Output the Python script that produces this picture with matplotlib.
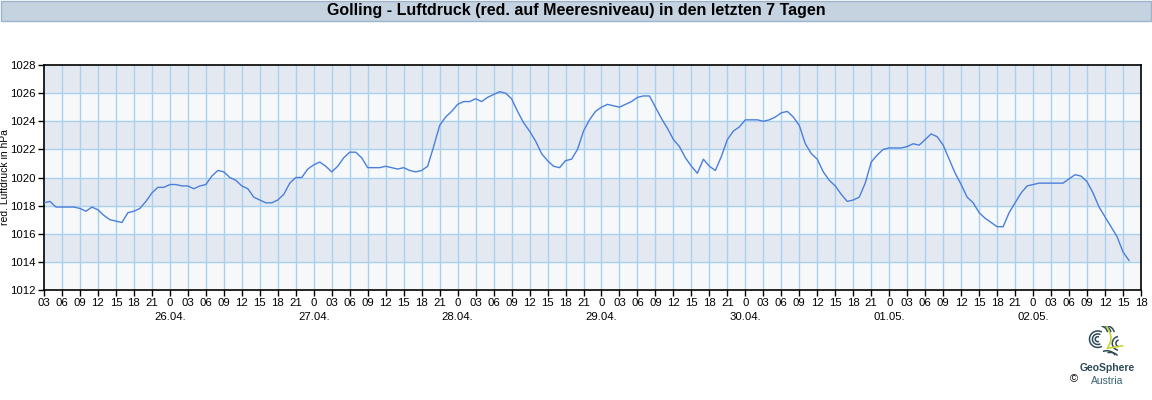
"""Golling - reduced air pressure, last 7 days (hourly readings off the chart)."""

import datetime as dt

import numpy as np

import matplotlib
matplotlib.use('Agg')
import matplotlib.pyplot as plt
from matplotlib.patches import Rectangle, Arc

plt.rcParams['font.family'] = ['Liberation Sans', 'DejaVu Sans']

TITLE = 'Golling - Luftdruck (red. auf Meeresniveau) in den letzten 7 Tagen'
YLABEL = 'red. Luftdruck in hPa'
START = dt.datetime(2024, 4, 25, 3)      # first tick, 25.04. 03 h
N_HOURS = 183                            # last tick, 02.05. 18 h

# hours since START, one reading per hour
HOURS = list(range(0, 182))
PRESSURE = [
    1018.2, 1018.3, 1017.9, 1017.9, 1017.9, 1017.9, 1017.8, 1017.6, 1017.9, 1017.7,
    1017.3, 1017.0, 1016.9, 1016.8, 1017.5, 1017.6, 1017.8, 1018.3, 1018.9, 1019.3,
    1019.3, 1019.5, 1019.5, 1019.4, 1019.4, 1019.2, 1019.4, 1019.5, 1020.1, 1020.5,
    1020.4, 1020.0, 1019.8, 1019.4, 1019.2, 1018.6, 1018.4, 1018.2, 1018.2, 1018.4,
    1018.8, 1019.6, 1020.0, 1020.0, 1020.6, 1020.9, 1021.1, 1020.8, 1020.4, 1020.8,
    1021.4, 1021.8, 1021.8, 1021.4, 1020.7, 1020.7, 1020.7, 1020.8, 1020.7, 1020.6,
    1020.7, 1020.5, 1020.4, 1020.5, 1020.8, 1022.2, 1023.7, 1024.3, 1024.7, 1025.2,
    1025.4, 1025.4, 1025.6, 1025.4, 1025.7, 1025.9, 1026.1, 1026.0, 1025.6, 1024.7,
    1023.9, 1023.3, 1022.6, 1021.7, 1021.2, 1020.8, 1020.7, 1021.2, 1021.3, 1022.0,
    1023.3, 1024.1, 1024.7, 1025.0, 1025.2, 1025.1, 1025.0, 1025.2, 1025.4, 1025.7,
    1025.8, 1025.8, 1025.0, 1024.2, 1023.5, 1022.7, 1022.2, 1021.4, 1020.8, 1020.3,
    1021.3, 1020.8, 1020.5, 1021.5, 1022.7, 1023.3, 1023.6, 1024.1, 1024.1, 1024.1,
    1024.0, 1024.1, 1024.3, 1024.6, 1024.7, 1024.3, 1023.7, 1022.4, 1021.7, 1021.3,
    1020.4, 1019.8, 1019.4, 1018.8, 1018.3, 1018.4, 1018.6, 1019.6, 1021.1, 1021.6,
    1022.0, 1022.1, 1022.1, 1022.1, 1022.2, 1022.4, 1022.3, 1022.7, 1023.1, 1022.9,
    1022.3, 1021.3, 1020.3, 1019.5, 1018.6, 1018.2, 1017.5, 1017.1, 1016.8, 1016.5,
    1016.5, 1017.5, 1018.2, 1018.9, 1019.4, 1019.5, 1019.6, 1019.6, 1019.6, 1019.6,
    1019.6, 1019.9, 1020.2, 1020.1, 1019.7, 1018.9, 1017.9, 1017.2, 1016.5, 1015.8,
    1014.7, 1014.1,
]
Y_MIN, Y_MAX, Y_STEP = 1012, 1028, 2

BAND_DARK = '#e4e9f1'
BAND_LIGHT = '#f6f8fa'
GRID = '#a9d0ef'
LINE = '#4a7fdc'
LOGO_DARK = '#2c4a57'
LOGO_YELLOW = '#c8d43a'

W, H = 1152, 400


def fx(px):
    return px / W


def fy(py):
    return 1 - py / H


def hour_label(h):
    t = START + dt.timedelta(hours=h)
    return '0' if t.hour == 0 else '%02d' % t.hour


def draw_logo(fig):
    lax = fig.add_axes([fx(1087), fy(359), fx(38), 33 / H])
    lax.set_xlim(-1.15, 1.15)
    lax.set_ylim(-1.0, 1.0)
    lax.axis('off')
    # left swirl
    for r in (0.15, 0.32, 0.5):
        lax.add_patch(Arc((-0.5, 0.2), 2 * r, 2 * r, theta1=60, theta2=300,
                          color=LOGO_DARK, lw=1.1))
    # right swirl
    for r in (0.2, 0.42):
        lax.add_patch(Arc((0.8, -0.05), 2 * r, 2 * r, theta1=100, theta2=260,
                          color=LOGO_DARK, lw=1.1))
    # top strokes
    for dx in (-0.05, 0.15, 0.35):
        lax.add_patch(Arc((dx - 0.3, 0.55), 0.9, 0.9, theta1=10, theta2=80,
                          color=LOGO_DARK, lw=1.1))
    # bottom strokes
    lax.add_patch(Arc((0.05, -0.95), 1.1, 0.9, theta1=20, theta2=120,
                      color=LOGO_DARK, lw=1.1))
    lax.add_patch(Arc((0.25, -1.05), 1.1, 0.9, theta1=30, theta2=110,
                      color=LOGO_DARK, lw=1.1))
    # yellow-green line
    t = np.linspace(0, 1, 40)
    lax.plot(0.05 + 0.25 * np.sin(3.0 * t), 0.95 - 1.3 * t, color=LOGO_YELLOW, lw=1.2)
    lax.plot(np.linspace(0.1, 1.0, 10), -0.35 + 0.15 * np.linspace(0, 1, 10),
             color=LOGO_YELLOW, lw=1.2)


def main():
    fig = plt.figure(figsize=(W / 100, H / 100), dpi=100, facecolor='white')

    # title bar
    fig.patches.append(Rectangle((0.001, fy(21)), 0.998, 20 / H,
                                 transform=fig.transFigure, facecolor='#c5d3e1',
                                 edgecolor='#9db3c9', lw=1))
    fig.text(0.5, fy(11), TITLE, ha='center', va='center',
             fontsize=11.5, fontweight='bold', color='black')

    ax = fig.add_axes([fx(44), fy(290), fx(1097), 225 / H])

    # alternating horizontal bands
    for i, y0 in enumerate(range(Y_MIN, Y_MAX, Y_STEP)):
        ax.axhspan(y0, y0 + Y_STEP, color=BAND_LIGHT if i % 2 == 0 else BAND_DARK,
                   lw=0, zorder=0)

    xt = list(range(0, N_HOURS + 1, 3))
    yt = list(range(Y_MIN, Y_MAX + 1, Y_STEP))
    for x in xt[1:-1]:
        ax.axvline(x, color=GRID, lw=1, zorder=1)
    for y in yt[1:-1]:
        ax.axhline(y, color=GRID, lw=1, zorder=1)

    ax.plot(HOURS, PRESSURE, color=LINE, lw=1, zorder=3)

    ax.set_xlim(0, N_HOURS)
    ax.set_ylim(Y_MIN, Y_MAX)
    ax.set_xticks(xt)
    ax.set_xticklabels([hour_label(h) for h in xt], fontsize=8.2)
    ax.set_yticks(yt)
    ax.set_yticklabels([str(y) for y in yt], fontsize=8.2)
    ax.tick_params(direction='out', length=4, width=1, pad=2)
    for s in ax.spines.values():
        s.set_linewidth(1.2)

    # date under each midnight tick
    for h in xt:
        t = START + dt.timedelta(hours=h)
        if t.hour == 0:
            ax.text(h, -26.5 / 225, '%02d.%02d.' % (t.day, t.month),
                    transform=ax.get_xaxis_transform(), ha='center', va='center',
                    fontsize=8.2)

    fig.text(fx(5), fy(177), YLABEL, rotation=90, ha='center', va='center',
             fontsize=7.5)

    draw_logo(fig)
    fig.text(fx(1107), fy(368), 'GeoSphere', ha='center', va='center',
             fontsize=7.5, fontweight='bold', color=LOGO_DARK)
    fig.text(fx(1107), fy(381), 'Austria', ha='center', va='center',
             fontsize=7.5, color='#3a6270')
    fig.text(fx(1074), fy(379), '\u00a9', ha='center', va='center',
             fontsize=8, color='black')

    fig.savefig('out.png', dpi=100, facecolor='white')
    plt.close(fig)


if __name__ == '__main__':
    main()
